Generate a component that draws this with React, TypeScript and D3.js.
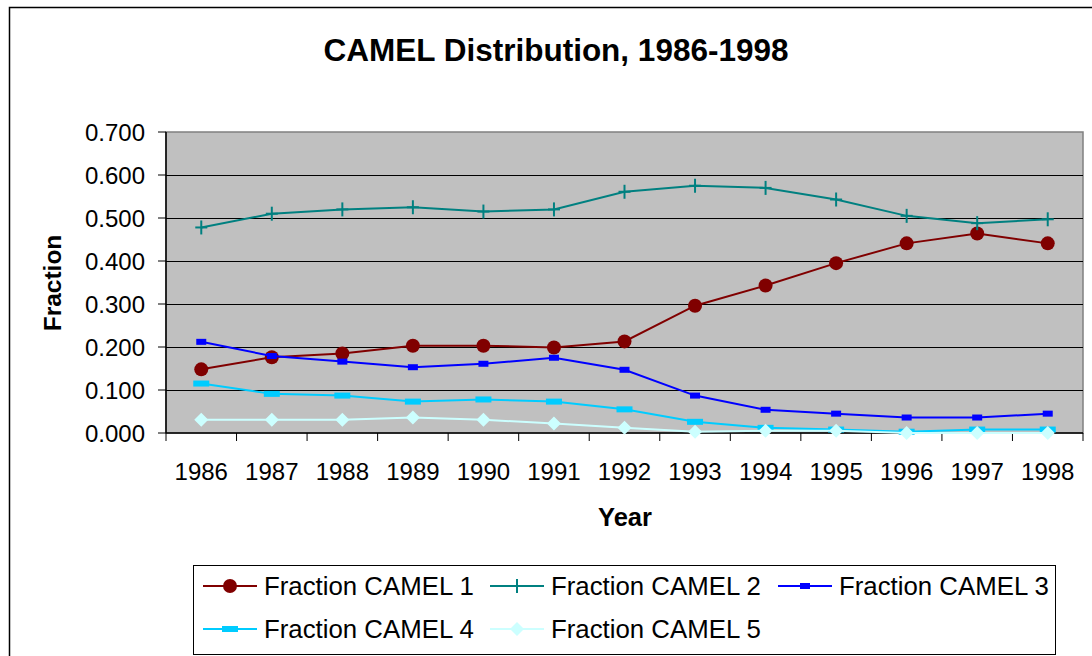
import React, { useEffect } from 'react';
import * as d3 from 'd3';

const years = ['1986', '1987', '1988', '1989', '1990', '1991', '1992', '1993', '1994', '1995', '1996', '1997', '1998'];

const camel1 = [0.148, 0.176, 0.185, 0.203, 0.203, 0.199, 0.213, 0.296, 0.343, 0.395, 0.441, 0.464, 0.441];
const camel2 = [0.478, 0.510, 0.520, 0.525, 0.515, 0.520, 0.561, 0.575, 0.570, 0.543, 0.505, 0.488, 0.497];
const camel3 = [0.212, 0.179, 0.166, 0.153, 0.161, 0.175, 0.147, 0.087, 0.054, 0.045, 0.036, 0.036, 0.045];
const camel4 = [0.115, 0.091, 0.087, 0.073, 0.078, 0.073, 0.055, 0.026, 0.012, 0.008, 0.003, 0.008, 0.008];
const camel5 = [0.031, 0.031, 0.031, 0.036, 0.031, 0.022, 0.012, 0.003, 0.005, 0.005, 0.000, 0.000, 0.000];

const yTicks = [0, 0.1, 0.2, 0.3, 0.4, 0.5, 0.6, 0.7];

type Marker = 'circle' | 'plus' | 'square' | 'rect' | 'diamond';

const series: { name: string; values: number[]; color: string; marker: Marker }[] = [
  { name: 'Fraction CAMEL 1', values: camel1, color: '#800000', marker: 'circle' },
  { name: 'Fraction CAMEL 2', values: camel2, color: '#008080', marker: 'plus' },
  { name: 'Fraction CAMEL 3', values: camel3, color: '#0000FF', marker: 'square' },
  { name: 'Fraction CAMEL 4', values: camel4, color: '#00CCFF', marker: 'rect' },
  { name: 'Fraction CAMEL 5', values: camel5, color: '#CCFFFF', marker: 'diamond' },
];

const FONT = '"Liberation Sans", Arial, sans-serif';

function MarkerShape({ type, x, y, color }: { type: Marker; x: number; y: number; color: string }) {
  switch (type) {
    case 'circle':
      return <circle cx={x} cy={y} r={7} fill={color} />;
    case 'plus':
      return (
        <g stroke={color} strokeWidth={2}>
          <line x1={x - 6} x2={x + 6} y1={y} y2={y} />
          <line x1={x} x2={x} y1={y - 7} y2={y + 7} />
        </g>
      );
    case 'square':
      return <rect x={x - 5} y={y - 3} width={10} height={6} fill={color} />;
    case 'rect':
      return <rect x={x - 8} y={y - 3} width={16} height={6} fill={color} />;
    case 'diamond':
      return <path d={`M${x},${y - 7}L${x + 7},${y}L${x},${y + 7}L${x - 7},${y}Z`} fill={color} />;
  }
}

export default function App() {
  useEffect(() => {
    document.body.style.margin = '0';
  }, []);

  const width = 1092;
  const height = 656;
  const left = 166, right = 1083, top = 132, bottom = 433;

  const x = d3.scaleBand<string>().domain(years).range([left, right]);
  const y = d3.scaleLinear().domain([0, 0.7]).range([bottom, top]);
  const cx = (yr: string) => (x(yr) as number) + x.bandwidth() / 2;

  const line = d3.line<number>()
    .x((_, i) => cx(years[i]))
    .y(d => y(d));

  const legendItems = [
    { s: series[0], lx: 203, ly: 586 },
    { s: series[1], lx: 490, ly: 586 },
    { s: series[2], lx: 778, ly: 586 },
    { s: series[3], lx: 203, ly: 629 },
    { s: series[4], lx: 490, ly: 629 },
  ];

  return (
    <svg width={width} height={height} style={{ display: 'block', fontFamily: FONT }}>
      <rect x={0} y={0} width={width} height={height} fill="#fff" />
      <rect x={9.5} y={7.5} width={1090} height={660} fill="none" stroke="#000" strokeWidth={1.5} />

      <text x={556} y={61} textAnchor="middle" fontSize={31.5} fontWeight="bold">CAMEL Distribution, 1986-1998</text>

      {/* plot area */}
      <rect x={left} y={top} width={right - left} height={bottom - top} fill="#C0C0C0" stroke="#808080" strokeWidth={1.5} />
      {yTicks.filter(t => t > 0 && t < 0.7).map(t => (
        <line key={t} x1={left} x2={right} y1={Math.round(y(t)) + 0.5} y2={Math.round(y(t)) + 0.5} stroke="#000" strokeWidth={1} />
      ))}

      {/* y axis */}
      <line x1={left} x2={left} y1={top} y2={bottom} stroke="#000" strokeWidth={1.5} />
      {yTicks.map(t => (
        <g key={t}>
          <line x1={left - 8} x2={left} y1={y(t)} y2={y(t)} stroke="#000" strokeWidth={1} />
          <text x={145} y={y(t) + 8.5} textAnchor="end" fontSize={24}>{t.toFixed(3)}</text>
        </g>
      ))}

      {/* x axis */}
      <line x1={left} x2={right} y1={bottom} y2={bottom} stroke="#000" strokeWidth={1.5} />
      {years.map(yr => (
        <line key={'t' + yr} x1={x(yr)} x2={x(yr)} y1={bottom} y2={bottom + 8} stroke="#000" strokeWidth={1} />
      ))}
      <line x1={right} x2={right} y1={bottom} y2={bottom + 8} stroke="#000" strokeWidth={1} />
      {years.map(yr => (
        <text key={yr} x={cx(yr)} y={480} textAnchor="middle" fontSize={24}>{yr}</text>
      ))}

      <text x={625} y={526} textAnchor="middle" fontSize={25.5} fontWeight="bold">Year</text>
      <text transform="translate(61,283) rotate(-90)" textAnchor="middle" fontSize={24.5} fontWeight="bold">Fraction</text>

      {/* series */}
      {series.map(s => (
        <g key={s.name}>
          <path d={line(s.values) as string} fill="none" stroke={s.color} strokeWidth={2} />
          {s.values.map((v, i) => (
            <MarkerShape key={i} type={s.marker} x={cx(years[i])} y={y(v)} color={s.color} />
          ))}
        </g>
      ))}

      {/* legend */}
      <rect x={193.5} y={565.5} width={862} height={89} fill="#fff" stroke="#000" strokeWidth={1} />
      {legendItems.map(({ s, lx, ly }) => (
        <g key={s.name}>
          <line x1={lx} x2={lx + 54} y1={ly} y2={ly} stroke={s.color} strokeWidth={2} />
          <MarkerShape type={s.marker} x={lx + 27} y={ly} color={s.color} />
          <text x={lx + 61} y={ly + 9} fontSize={25.8}>{s.name}</text>
        </g>
      ))}
    </svg>
  );
}
